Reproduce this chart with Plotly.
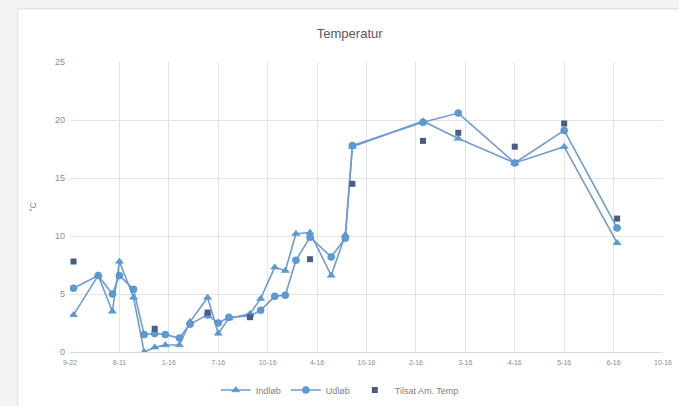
import plotly.graph_objects as go

# Sampling days (days after first tick) and measured temperatures
days = [1, 8, 12, 14, 18, 21, 24, 27, 31, 34, 39, 42, 45, 51, 54, 58, 61,
        64, 68, 74, 78, 80, 100, 110, 126, 140, 155]
indlob = [3.2, 6.6, 3.5, 7.8, 4.7, 0.0, 0.4, 0.6, 0.6, 2.6, 4.7, 1.6, 2.9,
          3.3, 4.6, 7.3, 7.0, 10.2, 10.3, 6.6, 10.1, 17.7, 19.9, 18.4, 16.3,
          17.7, 9.4]
udlob = [5.5, 6.6, 5.0, 6.6, 5.4, 1.5, 1.6, 1.5, 1.2, 2.4, 3.2, 2.5, 3.0,
         3.1, 3.6, 4.8, 4.9, 7.9, 9.9, 8.2, 9.8, 17.8, 19.8, 20.6, 16.3,
         19.1, 10.7]

am_days = [1, 24, 39, 51, 68, 80, 100, 110, 126, 140, 155]
am_temp = [7.8, 2.0, 3.4, 3.0, 8.0, 14.5, 18.2, 18.9, 17.7, 19.7, 11.5]

tick_days = [0, 14, 28, 42, 56, 70, 84, 98, 112, 126, 140, 154, 168]
tick_labels = ["9-22", "8-11", "1-16", "7-16", "10-16", "4-16", "10-16",
               "2-16", "3-16", "4-16", "5-16", "6-16", "10-16"]

line_col = "#6f9bd2"
mark_col = "#5b9bd5"

fig = go.Figure()
fig.add_trace(go.Scatter(
    x=days, y=indlob, name="Indløb", mode="lines+markers",
    line=dict(color=line_col, width=1.6),
    marker=dict(symbol="triangle-up", size=7, color=mark_col,
                line=dict(color="#4a86c5", width=0.5))))
fig.add_trace(go.Scatter(
    x=days, y=udlob, name="Udløb", mode="lines+markers",
    line=dict(color=line_col, width=1.6),
    marker=dict(symbol="circle", size=7, color=mark_col,
                line=dict(color="#4a86c5", width=0.5))))
fig.add_trace(go.Scatter(
    x=am_days, y=am_temp, name="Tilsat Am. Temp", mode="markers",
    marker=dict(symbol="square", size=6, color="#4b5d86")))

# white chart card on a light grey page
fig.add_shape(type="rect", xref="paper", yref="paper",
              x0=-0.088, x1=1.1, y0=-0.3, y1=1.183,
              fillcolor="white", line=dict(color="#dcdcdc", width=1),
              layer="below")

fig.update_layout(
    width=679, height=406,
    margin=dict(l=70, r=16, t=62, b=54, autoexpand=False),
    paper_bgcolor="#f3f3f3", plot_bgcolor="white",
    font=dict(family="Liberation Sans, Arial", color="#7f7f7f"),
    title=dict(text="Temperatur", x=0.515, y=0.918, xanchor="center",
               yanchor="middle",
               font=dict(size=13, color="#595959")),
    xaxis=dict(range=[0, 168], tickvals=tick_days, ticktext=tick_labels,
               showgrid=True, gridcolor="#e4e4e4", gridwidth=1,
               zeroline=False, showline=True, linecolor="#d9d9d9",
               automargin=False, ticklabelstandoff=4,
               tickfont=dict(size=7, color="#8c8c8c"), ticks=""),
    yaxis=dict(range=[0, 25], dtick=5, showgrid=True, gridcolor="#e4e4e4",
               zeroline=False, showline=False, automargin=False,
               ticklabelstandoff=4,
               tickfont=dict(size=9, color="#8c8c8c"), ticks="",
               title=dict(text="°C", font=dict(size=9, color="#7f7f7f"),
                          standoff=16)),
    legend=dict(orientation="h", x=0.455, y=-0.131, xanchor="center",
                yanchor="middle", font=dict(size=9, color="#7f7f7f"),
                bgcolor="rgba(0,0,0,0)"),
    showlegend=True,
)

fig.write_html("out.html")
